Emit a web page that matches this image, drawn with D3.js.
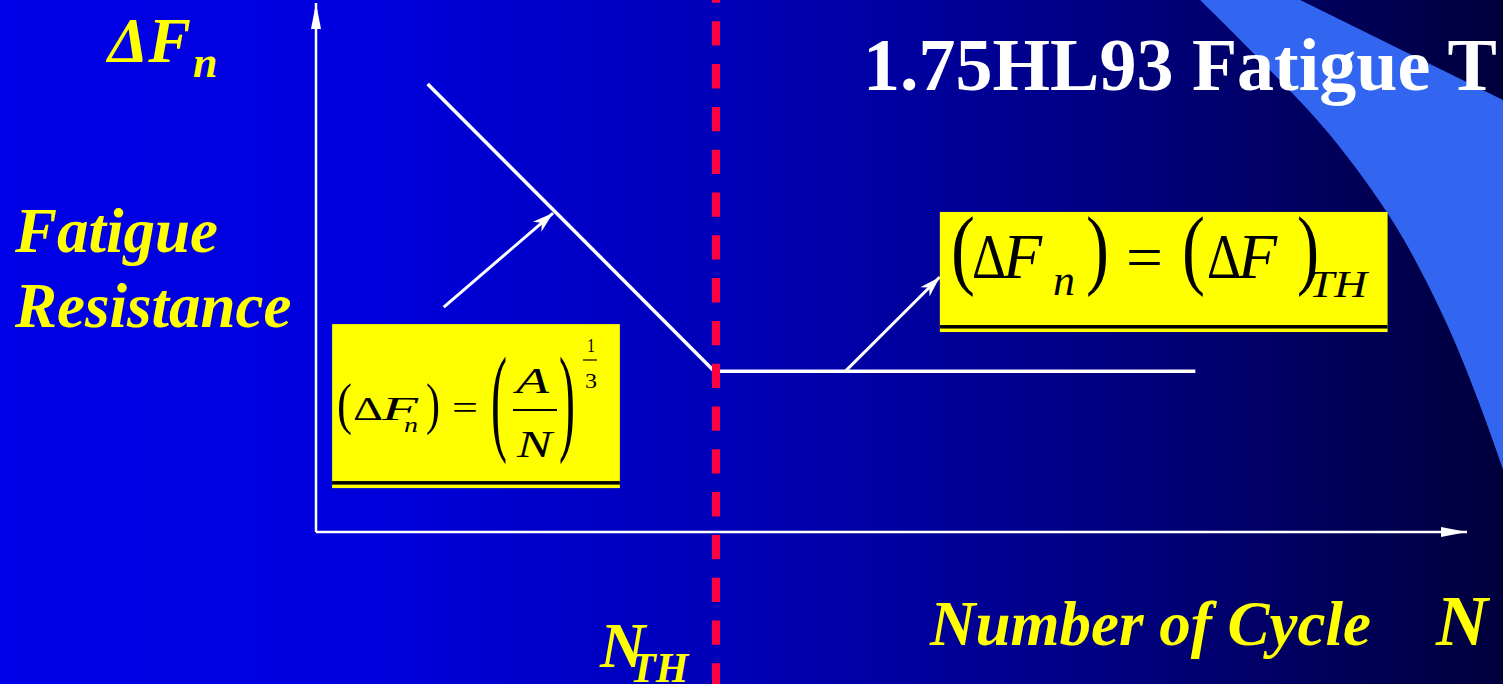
<!DOCTYPE html>
<html>
<head>
<meta charset="utf-8">
<script src="https://cdn.jsdelivr.net/npm/d3@7"></script>
<style>
  html, body { margin: 0; padding: 0; background: #000040; overflow: hidden; }
  svg { display: block; }
</style>
</head>
<body>
<div id="chart"></div>
<script>
// S-N curve (schematic, % of axis length)
const curveN = [9.7, 34.6, 76.4];
const curveF = [84.7, 30.4, 30.4];
// threshold cycle count
const nTH = [34.75];
// callout arrows: [fromN, fromF] -> [toN, toF]
const arrowFrom = [[11.1, 42.5], [46.0, 30.4]];
const arrowTo = [[20.6, 60.3], [54.2, 48.2]];
// formula boxes: [n0, n1], [fTop, fBottom]
const boxN = [[1.4, 26.4], [54.2, 93.1]];
const boxF = [[39.3, 8.3], [60.5, 37.8]];

const W = 1503, H = 684;
const serif = "'Liberation Serif', 'Times New Roman', serif";

const svg = d3.select('#chart').append('svg').attr('width', W).attr('height', H);
const defs = svg.append('defs');

const grad = defs.append('linearGradient').attr('id', 'bg').attr('x1', 0).attr('x2', 1).attr('y1', 0).attr('y2', 0);
[[0, '#0000e8'], [0.25, '#0000dc'], [0.5, '#0000b4'], [0.7, '#00008a'], [0.85, '#000064'], [1, '#00003c']]
    .forEach(s => grad.append('stop').attr('offset', s[0]).attr('stop-color', s[1]));

svg.append('rect').attr('width', W).attr('height', H).attr('fill', 'url(#bg)');

// decorative swoosh: curved left edge, straight right edge
const leftEdge = [[1195, -5], [1262, 62], [1330, 135], [1395, 225], [1445, 320], [1478, 400], [1505, 475]];
svg.append('path')
    .attr('d', d3.line().curve(d3.curveCatmullRom)(leftEdge) + 'L1510,475L1510,103L1503,100L1290,-5Z')
    .attr('fill', '#3366f0');

// title
svg.append('text').attr('x', 863).attr('y', 90)
    .attr('font-family', serif).attr('font-weight', 'bold').attr('font-size', 74)
    .attr('fill', '#fff').text('1.75HL93 Fatigue T');

const x = d3.scaleLinear().domain([0, 100]).range([316, 1467]);
const y = d3.scaleLinear().domain([0, 100]).range([532, 3]);

// arrow markers
defs.append('marker').attr('id', 'axisHead').attr('markerUnits', 'userSpaceOnUse')
    .attr('markerWidth', 30).attr('markerHeight', 14).attr('viewBox', '-27 -7 30 14')
    .attr('refX', 0).attr('refY', 0).attr('orient', 'auto')
    .append('path').attr('d', 'M0,0L-26,-5L-26,5Z').attr('fill', '#fff');
defs.append('marker').attr('id', 'calloutHead').attr('markerUnits', 'userSpaceOnUse')
    .attr('markerWidth', 26).attr('markerHeight', 16).attr('viewBox', '-23 -8 26 16')
    .attr('refX', 0).attr('refY', 0).attr('orient', 'auto')
    .append('path').attr('d', 'M0,0L-21,-6.5L-15,0L-21,6.5Z').attr('fill', '#fff');

// axes
svg.append('line')
    .attr('x1', x(0)).attr('y1', y(0)).attr('x2', x(0)).attr('y2', y(100))
    .attr('stroke', '#fff').attr('stroke-width', 2.5).attr('marker-end', 'url(#axisHead)');
svg.append('line')
    .attr('x1', x(0)).attr('y1', y(0)).attr('x2', x(100)).attr('y2', y(0))
    .attr('stroke', '#fff').attr('stroke-width', 2.5).attr('marker-end', 'url(#axisHead)');

// S-N curve
const pts = curveN.map((n, i) => [n, curveF[i]]);
svg.append('path')
    .attr('d', d3.line().x(d => x(d[0])).y(d => y(d[1]))(pts))
    .attr('fill', 'none').attr('stroke', '#fff').attr('stroke-width', 3.5);

// threshold line
svg.selectAll('.th').data(nTH).enter().append('line')
    .attr('x1', d => x(d)).attr('x2', d => x(d)).attr('y1', 0).attr('y2', H)
    .attr('stroke', '#ff0040').attr('stroke-width', 8)
    .attr('stroke-dasharray', '24.3,18.5').attr('stroke-dashoffset', 21.5);

// callout arrows
svg.selectAll('.callout').data(arrowFrom).enter().append('line')
    .attr('x1', d => x(d[0])).attr('y1', d => y(d[1]))
    .attr('x2', (d, i) => x(arrowTo[i][0])).attr('y2', (d, i) => y(arrowTo[i][1]))
    .attr('stroke', '#fff').attr('stroke-width', 3).attr('marker-end', 'url(#calloutHead)');

// formula boxes
boxN.forEach((bn, i) => {
    const x0 = x(bn[0]), x1 = x(bn[1]), yTop = y(boxF[i][0]), yBot = y(boxF[i][1]);
    svg.append('rect').attr('x', x0).attr('y', yTop).attr('width', x1 - x0).attr('height', yBot - yTop)
        .attr('fill', '#ffff00');
    svg.append('rect').attr('x', x0).attr('y', yBot - 7).attr('width', x1 - x0).attr('height', 3.5)
        .attr('fill', '#000');
});

// glyph helper: [text, x, baseline, size, italic, width]
function glyphs(list, color) {
    list.forEach(g => {
        const t = svg.append('text').attr('x', g[1]).attr('y', g[2])
            .attr('font-family', serif).attr('font-size', g[3])
            .attr('font-style', g[4] ? 'italic' : 'normal')
            .attr('fill', color).text(g[0]);
        if (g[5]) t.attr('textLength', g[5]).attr('lengthAdjust', 'spacingAndGlyphs');
    });
}

// formula 1
glyphs([
    ['(', 337, 423, 58, false, 15],
    ['\u0394', 353, 420, 34, false, 30],
    ['F', 382, 420, 34, true, 36],
    ['n', 404, 432, 22, true, 14],
    [')', 426, 423, 58, false, 14],
    ['=', 452, 419, 33, false, 26],
    ['(', 491, 439, 118, false, 16],
    ['A', 516, 393, 35, true, 33],
    ['N', 517, 457, 37, true, 35],
    [')', 559, 439, 118, false, 16],
    ['1', 587, 352, 18, false, 8],
    ['3', 585, 388, 22, false, 12]
], '#000');
svg.append('line').attr('x1', 513).attr('x2', 557).attr('y1', 410).attr('y2', 410)
    .attr('stroke', '#000').attr('stroke-width', 2);
svg.append('line').attr('x1', 583).attr('x2', 597).attr('y1', 360).attr('y2', 360)
    .attr('stroke', '#000').attr('stroke-width', 1.2);

// formula 2
glyphs([
    ['(', 951, 278, 88, false, 24],
    ['\u0394', 972, 278, 64, false, 34],
    ['F', 1003, 278, 64, true, 0],
    ['n', 1053, 295, 44, true, 22],
    [')', 1086, 278, 88, false, 23],
    ['=', 1126, 278, 62, false, 37],
    ['(', 1182, 278, 88, false, 23],
    ['\u0394', 1207, 278, 64, false, 34],
    ['F', 1238, 278, 64, true, 0],
    [')', 1297, 278, 88, false, 22],
    ['TH', 1309, 297, 38, true, 58]
], '#000');

// yellow labels
function label(t, px, py, size) {
    svg.append('text').attr('x', px).attr('y', py)
        .attr('font-family', serif).attr('font-weight', 'bold').attr('font-style', 'italic')
        .attr('font-size', size).attr('fill', '#ffff00').text(t);
}
label('\u0394F', 108, 62, 64);
label('n', 193, 77, 44);
label('Fatigue', 15, 252, 63);
label('Resistance', 15, 327, 63);
label('Number of Cycle', 930, 645, 63);
label('N', 1436, 645, 72);
label('N', 600, 667, 63);
label('TH', 630, 682, 42);
</script>
</body>
</html>
